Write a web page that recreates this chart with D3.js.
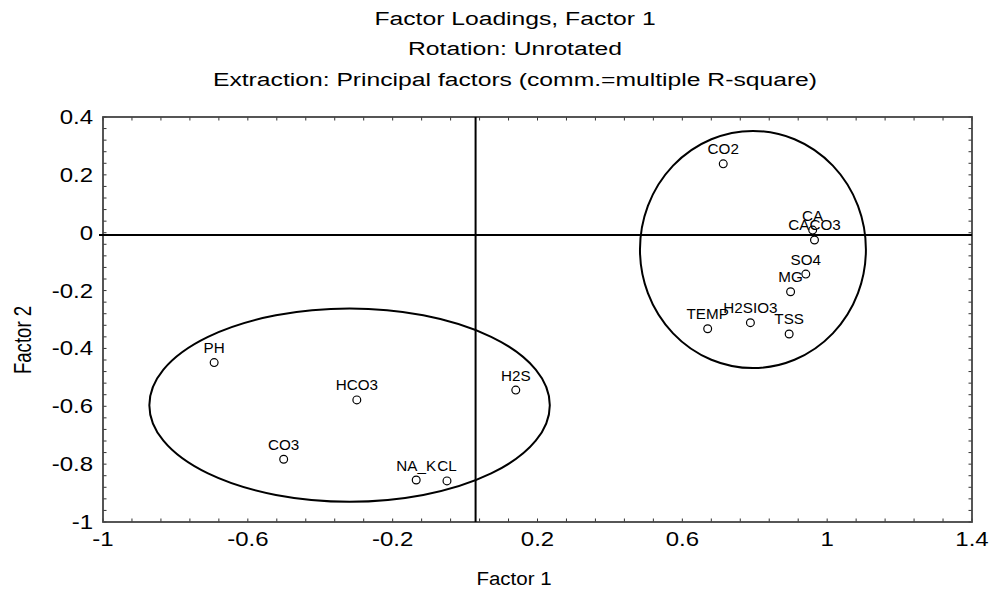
<!DOCTYPE html>
<html><head><meta charset="utf-8">
<script src="https://cdn.jsdelivr.net/npm/d3@7"></script>
<style>html,body{margin:0;padding:0;background:#fff}svg{display:block}text{font-family:"Liberation Sans",Arial,sans-serif;fill:#000}</style>
</head><body>
<script>
// ---- data ----
const variables = ["CO2","CA","CACO3","SO4","MG","TEMP","H2SIO3","TSS","PH","HCO3","CO3","NA_K","CL","H2S"];
const factor1 = [0.713,0.960,0.965,0.941,0.899,0.670,0.788,0.895,-0.693,-0.299,-0.501,-0.135,-0.050,0.140];
const factor2 = [0.238,0.009,-0.025,-0.143,-0.204,-0.332,-0.311,-0.350,-0.449,-0.578,-0.783,-0.855,-0.858,-0.544];
const xTickValues = [-1,-0.6,-0.2,0.2,0.6,1,1.4];
const xTickLabels = ["-1","-0.6","-0.2","0.2","0.6","1","1.4"];
const yTickValues = [0.4,0.2,0,-0.2,-0.4,-0.6,-0.8,-1];
const yTickLabels = ["0.4","0.2","0","-0.2","-0.4","-0.6","-0.8","-1"];
const groupCX = [0.795,-0.319];
const groupCY = [-0.058,-0.596];
const groupRX = [0.312,0.553];
const groupRY = [0.41,0.334];
const refX = 0.029, refY = -0.008;
const titles = ["Factor Loadings, Factor 1","Rotation: Unrotated","Extraction: Principal factors (comm.=multiple R-square)"];
const xTitle = "Factor 1", yTitle = "Factor 2";

// ---- layout ----
const W = 992, H = 596;
const L = 103, R = 972, T = 117, B = 522;
const svg = d3.select("body").append("svg").attr("width", W).attr("height", H);
const x = d3.scaleLinear().domain([-1,1.4]).range([L,R]);
const y = d3.scaleLinear().domain([-1,0.4]).range([B,T]);

function stext(g, tx, ty, str, size, anchor, sx, rot, sy){
  return g.append("text")
    .attr("transform", `translate(${tx},${ty})` + (rot ? ` rotate(${rot})` : "") + ` scale(${sx},${sy||1})`)
    .attr("text-anchor", anchor).attr("font-size", size).text(str);
}

// titles
titles.forEach((t,i)=> stext(svg, 515, 24.5 + i*30.5, t, 19, "middle", 1.3));

// minor ticks inward
const minorX = d3.range(0,31).map(i=> -1 + i*0.08);
const minorY = d3.range(0,36).map(i=> -1 + i*0.04);
const tk = svg.append("g").attr("stroke","#333").attr("stroke-width",1);
minorX.forEach(v=>{
  tk.append("line").attr("x1",x(v)).attr("x2",x(v)).attr("y1",B).attr("y2",B-3.5);
  tk.append("line").attr("x1",x(v)).attr("x2",x(v)).attr("y1",T).attr("y2",T+3.5);
});
minorY.forEach(v=>{
  tk.append("line").attr("y1",y(v)).attr("y2",y(v)).attr("x1",L).attr("x2",L+3.5);
  tk.append("line").attr("y1",y(v)).attr("y2",y(v)).attr("x1",R).attr("x2",R-3.5);
});

// frame
svg.append("rect").attr("x",L).attr("y",T).attr("width",R-L).attr("height",B-T)
  .attr("fill","none").attr("stroke","#444").attr("stroke-width",1.8);

// tick labels
xTickValues.forEach((v,i)=> stext(svg, x(v), 546, xTickLabels[i], 20, "middle", 1.2));
yTickValues.forEach((v,i)=> stext(svg, 93, y(v)+7, yTickLabels[i], 20, "end", 1.2));

// axis titles
stext(svg, 514, 585, xTitle, 19, "middle", 1.08);
stext(svg, 31, 340, yTitle, 19, "middle", 0.98, -90, 1.25);

// reference lines
svg.append("line").attr("x1",x(refX)).attr("x2",x(refX)).attr("y1",T).attr("y2",B)
  .attr("stroke","#000").attr("stroke-width",2);
svg.append("line").attr("x1",L-4).attr("x2",R).attr("y1",y(refY)).attr("y2",y(refY))
  .attr("stroke","#000").attr("stroke-width",2);

// group ellipses
groupCX.forEach((cx,i)=>{
  svg.append("ellipse")
    .attr("cx", x(cx)).attr("cy", y(groupCY[i]))
    .attr("rx", x(cx+groupRX[i]) - x(cx)).attr("ry", y(groupCY[i]-groupRY[i]) - y(groupCY[i]))
    .attr("fill","none").attr("stroke","#000").attr("stroke-width",2);
});

// points
const pts = svg.append("g");
variables.forEach((name,i)=>{
  pts.append("circle").attr("cx",x(factor1[i])).attr("cy",y(factor2[i])).attr("r",3.9)
    .attr("fill","#fff").attr("stroke","#000").attr("stroke-width",1.2);
});
variables.forEach((name,i)=>{
  stext(pts, x(factor1[i]), y(factor2[i]) - 9.5, name, 14.5, "middle", 1.05);
});
</script>
</body></html>
